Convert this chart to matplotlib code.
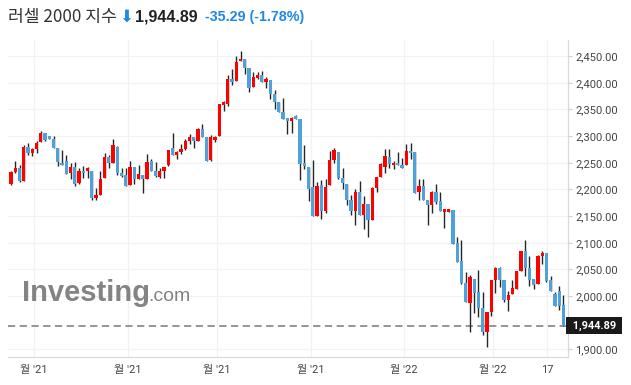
import matplotlib
matplotlib.use("Agg")
import matplotlib.pyplot as plt
import matplotlib.transforms as mtransforms

# --- data (daily candles) ---
opens = [2210, 2232.5, 2241, 2215.5, 2280.5, 2268, 2275.5, 2288.5, 2305, 2299.5,
         2294.5, 2277, 2250.5, 2252.5, 2230, 2243, 2212, 2235.5, 2234.5, 2235.5,
         2184, 2189.5, 2221, 2260.5, 2249.5, 2280.5, 2231, 2228, 2208, 2243,
         2220, 2227.5, 2220, 2252.5, 2235.5, 2222.5, 2235.5, 2245, 2277.5, 2264,
         2269.5, 2276.5, 2291.5, 2297.5, 2291.5, 2313.5, 2298, 2254.5, 2293.5, 2300,
         2358.5, 2361, 2407, 2404, 2440, 2445, 2428, 2393, 2409.5, 2415,
         2402, 2405.5, 2379, 2364.5, 2345, 2333.5, 2328.5, 2338, 2331.5, 2250.5,
         2243, 2204.5, 2149.5, 2208.5, 2160.5, 2208, 2255, 2271, 2221, 2211,
         2180, 2160.5, 2196, 2152.5, 2172.5, 2142, 2203.5, 2222.5, 2242.5, 2260.5,
         2245, 2249.5, 2246, 2246, 2273, 2269.5, 2195.5, 2206, 2180, 2171,
         2195, 2178, 2158, 2158, 2161, 2100, 2065.5, 2024.5, 1987.5, 2031.5,
         2007, 1978.5, 1933.5, 1969.5, 2031, 2052, 2030, 1993, 2004.5, 2013.5,
         2047.5, 2084.5, 2052.5, 2032, 2023.5, 2076, 2080.5, 2030, 2003.5, 2009.5,
         1983]
highs = [2234, 2254, 2246, 2284, 2288, 2277.5, 2290, 2310.5, 2305, 2301,
         2299.5, 2277, 2274.5, 2265, 2249, 2252, 2239.5, 2244.5, 2243, 2235.5,
         2202.5, 2235.5, 2268, 2264.5, 2295.5, 2281, 2241, 2241, 2254, 2243,
         2246, 2227.5, 2267, 2257.5, 2252, 2241, 2242.5, 2274, 2306, 2271.5,
         2285.5, 2295, 2304, 2297.5, 2315.5, 2323, 2298, 2301.5, 2299.5, 2360,
         2366, 2414, 2425.5, 2449.5, 2459.5, 2445, 2428, 2420.5, 2420.5, 2422.5,
         2411.5, 2405.5, 2387, 2364.5, 2371.5, 2333.5, 2336, 2339, 2332, 2282.5,
         2243, 2254.5, 2213.5, 2218, 2220, 2272, 2278.5, 2271, 2241, 2211,
         2189, 2200, 2216, 2187.5, 2172.5, 2204, 2222.5, 2250, 2275, 2275.5,
         2254, 2271, 2259, 2284.5, 2288, 2269.5, 2220.5, 2220.5, 2180, 2197,
         2211, 2196, 2163, 2163, 2161, 2110, 2105, 2044.5, 2039.5, 2031.5,
         2049.5, 2008.5, 1969.5, 2029.5, 2055, 2055.5, 2030, 2009.5, 2029.5, 2047,
         2084.5, 2106, 2075, 2032, 2078, 2085, 2081, 2038.5, 2008.5, 2018.5,
         2002]
lows = [2209, 2230, 2214, 2215, 2265.5, 2263, 2267.5, 2288.5, 2291, 2294,
        2277.5, 2244, 2245, 2228.5, 2220, 2207, 2210, 2221, 2222, 2181,
        2181, 2189, 2221, 2239.5, 2249, 2228, 2223, 2206, 2208, 2211,
        2220, 2192.5, 2220, 2235, 2224, 2222, 2221, 2244, 2265, 2257.5,
        2266.5, 2273.5, 2286, 2277.5, 2291.5, 2298, 2252.5, 2254, 2289, 2300,
        2347, 2356.5, 2396.5, 2404, 2440, 2416, 2383.5, 2393, 2406.5, 2402,
        2389.5, 2370.5, 2350, 2345, 2332.5, 2304.5, 2306.5, 2332, 2218, 2237.5,
        2179, 2149.5, 2149.5, 2145, 2155.5, 2208, 2250, 2220.5, 2201, 2170,
        2152, 2132.5, 2152.5, 2126, 2110, 2142, 2195.5, 2222.5, 2231, 2241,
        2238, 2245, 2241, 2246, 2258, 2193.5, 2180.5, 2180.5, 2134, 2156,
        2172.5, 2160, 2127, 2158, 2097, 2063.5, 2023.5, 1989.5, 1933.5, 1968.5,
        1960, 1928, 1904.5, 1962, 2005.5, 2017, 1989.5, 1972, 2004.5, 2013.5,
        2047.5, 2037.5, 2018.5, 2012.5, 2023.5, 2061, 2027, 2009.5, 1982, 1973.5,
        1944.89]
closes = [2232, 2241, 2215, 2279.5, 2268, 2275, 2288, 2305, 2292, 2294.5,
          2277.5, 2251, 2245.5, 2228.5, 2243, 2211, 2235.5, 2230, 2239.5, 2184,
          2189, 2220.5, 2260.5, 2249.5, 2282.5, 2230.5, 2226, 2206, 2243, 2220,
          2229.5, 2219, 2252, 2235, 2224.5, 2235.5, 2242.5, 2274, 2265, 2269.5,
          2276.5, 2291.5, 2297.5, 2291.5, 2313.5, 2298, 2252.5, 2299, 2299, 2360,
          2363.5, 2407, 2402, 2439.5, 2445, 2428.5, 2390, 2411, 2415, 2402,
          2408, 2379.5, 2364.5, 2345, 2332.5, 2328.5, 2333.5, 2332.5, 2248, 2244.5,
          2200.5, 2149.5, 2207, 2160.5, 2205.5, 2255.5, 2273.5, 2221, 2212.5, 2180,
          2160.5, 2196, 2152.5, 2173, 2142, 2203.5, 2222.5, 2247, 2262.5, 2247,
          2250, 2245, 2241, 2273, 2268, 2193.5, 2206, 2180.5, 2170.5, 2195.5,
          2177, 2160, 2163, 2163, 2097, 2063.5, 2025, 1989.5, 2035, 2006,
          1978, 1933.5, 1969.5, 2029.5, 2052, 2031, 1993, 2003, 2015, 2047,
          2084.5, 2053, 2031, 2021, 2076, 2081, 2028.5, 2009.5, 1982, 1982,
          1944.89]

tick_pos = [5.4, 27.5, 48.5, 70.6, 92.5, 113.4, 126.1]
tick_labels = ["월 '21", "월 '21", "월 '21", "월 '21", "월 '22", "월 '22", "17"]
# 1,950 is hidden behind the last-price box in the original
y_ticks = [1900, 2000, 2050, 2100, 2150, 2200, 2250, 2300, 2350, 2400, 2450]

title_name = "러셀 2000 지수"
last_price = "1,944.89"
change_txt = "-35.29 (-1.78%)"

UP = "#ff0000"
DOWN = "#4ea1db"
WICK = "#262626"
BLUE_TXT = "#1e88e5"

fig = plt.figure(figsize=(6.31, 3.85), dpi=100)
ax = fig.add_axes([8 / 631, 1 - 357 / 385, 560 / 631, 317 / 385])

idx = list(range(len(closes)))
bottoms = [min(o, c) for o, c in zip(opens, closes)]
heights = [max(abs(c - o), 2.0) for o, c in zip(opens, closes)]
colors = [UP if c >= o else DOWN for o, c in zip(opens, closes)]

ax.vlines(idx, lows, highs, color=WICK, linewidth=1.0, zorder=2)
ax.bar(idx, heights, bottom=bottoms, width=0.72, color=colors, linewidth=0, zorder=3)

# last price dashed line + label box
last = closes[-1]
ax.axhline(last, color="#8c8c8c", linestyle=(0, (4, 2.5)), linewidth=1.3, zorder=1)
trans = mtransforms.blended_transform_factory(ax.transAxes, ax.transData)
ax.text(1.003, last, " " + last_price + " ", transform=trans, ha="left", va="center",
        color="white", fontsize=7.8, fontweight="bold", family="Roboto",
        bbox=dict(boxstyle="square,pad=0.3", fc="#1a1a1a", ec="none"), zorder=5)

ax.set_xlim(-0.71, 131.06)
ax.set_ylim(1885.9, 2480.3)

ax.yaxis.tick_right()
ax.set_yticks(y_ticks)
ax.set_yticklabels([f"{v:,.2f}" for v in y_ticks])
ax.set_xticks(tick_pos)
ax.set_xticklabels(tick_labels)
ax.tick_params(axis="y", length=3, color="#cccccc", labelsize=8, labelcolor="#444444", pad=2)
ax.tick_params(axis="x", length=0, labelsize=8, labelcolor="#444444", pad=6)
for lab in ax.get_yticklabels():
    lab.set_family("Roboto")
for lab in ax.get_xticklabels():
    lab.set_family(["Roboto", "Noto Sans CJK KR"])

ax.grid(True, color="#f2f2f2", linewidth=0.9, zorder=0)
ax.set_axisbelow(True)
for s in ["top", "left"]:
    ax.spines[s].set_visible(False)
for s in ["right", "bottom"]:
    ax.spines[s].set_color("#d9d9d9")
    ax.spines[s].set_linewidth(0.9)

# watermark
ax.text(0.025, 0.178, "Investing", transform=ax.transAxes, fontsize=21, fontweight="bold",
        family="Liberation Sans", color="#6e6e6e", alpha=0.85, ha="left", va="baseline", zorder=1)
ax.text(0.251, 0.178, ".com", transform=ax.transAxes, fontsize=14,
        family="Liberation Sans", color="#6e6e6e", alpha=0.85, ha="left", va="baseline", zorder=1)

# header
fig.text(8 / 631, 1 - 17 / 385, title_name, family=["Noto Sans CJK KR", "DejaVu Sans"],
         fontsize=12.3, color="#333333", va="center", ha="left")
fig.text(119 / 631, 1 - 17 / 385, "⬇", family="DejaVu Sans", fontsize=12,
         color=BLUE_TXT, va="center", ha="left")
fig.text(135 / 631, 1 - 17 / 385, last_price, family="Liberation Sans", fontsize=11.5,
         fontweight="bold", color="#222222", va="center", ha="left")
fig.text(205 / 631, 1 - 17 / 385, change_txt, family="Liberation Sans", fontsize=10.3,
         fontweight="bold", color=BLUE_TXT, va="center", ha="left")

fig.savefig("out.png", dpi=100, facecolor="white")
